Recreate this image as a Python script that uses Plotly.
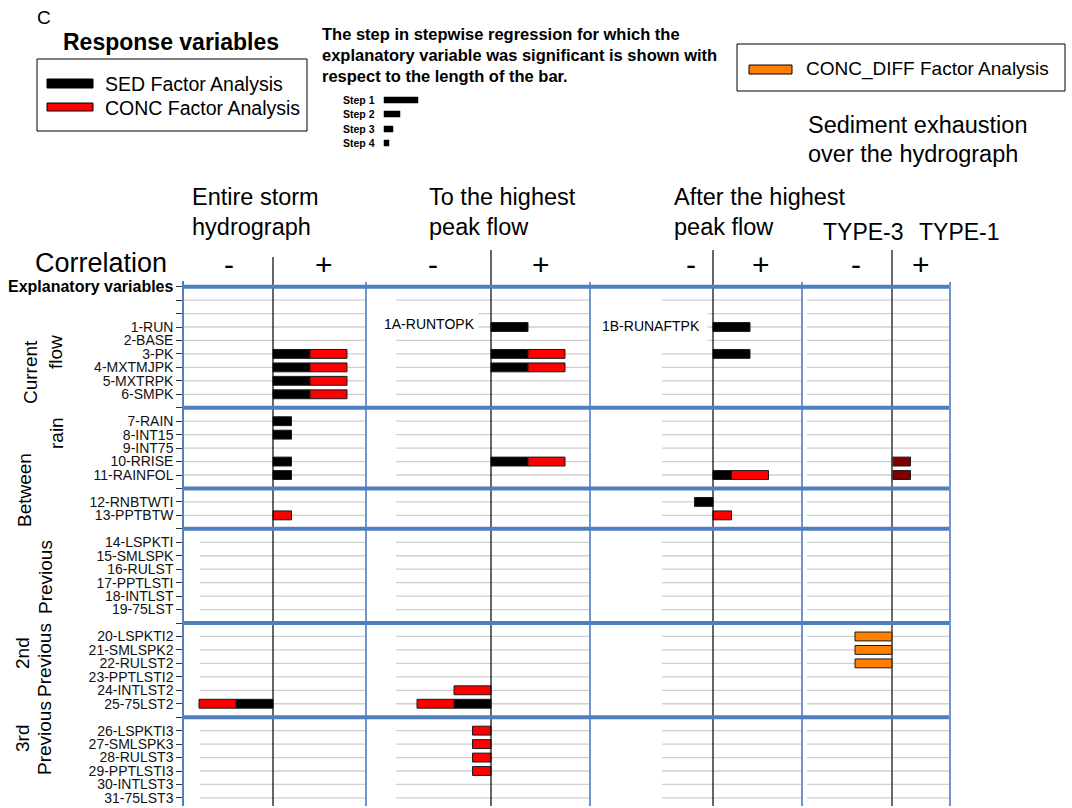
import plotly.graph_objects as go

# ---------------- data ----------------
blocks = [
    ["1-RUN", "2-BASE", "3-PK", "4-MXTMJPK", "5-MXTRPK", "6-SMPK"],
    ["7-RAIN", "8-INT15", "9-INT75", "10-RRISE", "11-RAINFOL"],
    ["12-RNBTWTI", "13-PPTBTW"],
    ["14-LSPKTI", "15-SMLSPK", "16-RULST", "17-PPTLSTI", "18-INTLST", "19-75LST"],
    ["20-LSPKTI2", "21-SMLSPK2", "22-RULST2", "23-PPTLSTI2", "24-INTLST2", "25-75LST2"],
    ["26-LSPKTI3", "27-SMLSPK3", "28-RULST3", "29-PPTLSTI3", "30-INTLST3", "31-75LST3"],
]
header_label = "Explanatory variables"

# bar length ~ step (longer = earlier step); sign = correlation
sed_entire = {"3-PK": 2, "4-MXTMJPK": 2, "5-MXTRPK": 2, "6-SMPK": 2, "7-RAIN": 1,
              "8-INT15": 1, "10-RRISE": 1, "11-RAINFOL": 1, "25-75LST2": -2}
conc_entire = {"3-PK": 2, "4-MXTMJPK": 2, "5-MXTRPK": 2, "6-SMPK": 2,
               "13-PPTBTW": 1, "25-75LST2": -2}
sed_topk = {"1-RUN": 2, "3-PK": 2, "4-MXTMJPK": 2, "10-RRISE": 2, "25-75LST2": -2}
conc_topk = {"3-PK": 2, "4-MXTMJPK": 2, "10-RRISE": 2, "24-INTLST2": -2, "25-75LST2": -2,
             "26-LSPKTI3": -1, "27-SMLSPK3": -1, "28-RULST3": -1, "29-PPTLSTI3": -1}
sed_aftpk = {"1-RUN": 2, "3-PK": 2, "11-RAINFOL": 1, "12-RNBTWTI": -1}
conc_aftpk = {"11-RAINFOL": 2, "13-PPTBTW": 1}
type1_exh = {"10-RRISE": 1, "11-RAINFOL": 1}
conc_diff = {"20-LSPKTI2": -2, "21-SMLSPK2": -2, "22-RULST2": -2}

# ---------------- rows ----------------
rows = [header_label, "", ""]
sep_rows = [0]
for i, b in enumerate(blocks):
    if i > 0:
        sep_rows.append(len(rows))
        rows.append("")
    rows.extend(b)
row_of = {lab: i for i, lab in enumerate(rows) if lab}

# ---------------- geometry ----------------
W, H = 1072, 808
L, R, T, B = 184, 122, 281, 2
PW, PH = W - L - R, H - T - B
def px(x): return (x - L) / PW
def py(y): return (H - B - y) / PH

PPU = 18.5
panel_px = [182, 224, 212, 148]
zero_px = [89, 125, 123, 90]
grid_inset = [0, 30, 72, 5]
FONT = "Liberation Sans, Arial, sans-serif"

BLUE = "#4f7fbf"
fig = go.Figure()

def add_bars(d, color, ax, name):
    labs = list(d.keys())
    fig.add_trace(go.Bar(
        x=[d[k] for k in labs], y=[row_of[k] for k in labs], orientation="h",
        xaxis=ax, yaxis="y", name=name, width=0.66,
        marker=dict(color=color, line=dict(color="#1a1a1a", width=1)),
        showlegend=False))

add_bars(sed_entire, "#000000", "x", "SED")
add_bars(conc_entire, "#ff0000", "x", "CONC")
add_bars(sed_topk, "#000000", "x2", "SED")
add_bars(conc_topk, "#ff0000", "x2", "CONC")
add_bars(sed_aftpk, "#000000", "x3", "SED")
add_bars(conc_aftpk, "#ff0000", "x3", "CONC")
add_bars(type1_exh, "#7f0000", "x4", "TYPE")
add_bars(conc_diff, "#ff8000", "x4", "CONC_DIFF")

layout = dict(
    width=W, height=H, margin=dict(l=L, r=R, t=T, b=B, pad=0),
    paper_bgcolor="white", plot_bgcolor="white", barmode="relative",
    font=dict(family=FONT, color="#000"),
    yaxis=dict(range=[38.6, -0.42], tickvals=list(range(len(rows))),
               ticktext=["" if i == 0 else r for i, r in enumerate(rows)],
               ticks="outside", ticklen=6, tickcolor="#333", showline=True,
               linecolor=BLUE, linewidth=1.5, showgrid=False,
               zeroline=False, tickfont=dict(size=14, color="#111"),
               anchor="x"),
)
start = 0
shapes = []
for i, (w, z) in enumerate(zip(panel_px, zero_px)):
    key = "xaxis" if i == 0 else f"xaxis{i+1}"
    d0 = start / PW
    d1 = (start + w) / PW
    layout[key] = dict(domain=[d0, d1], range=[-z / PPU, (w - z) / PPU],
                       visible=False, anchor="y")
    # light gray row lines inside this panel
    for r in range(len(rows)):
        if r in sep_rows:
            continue
        inset = grid_inset[i]
        if i == 0 and r >= 18:
            inset = 16
        shapes.append(dict(type="line", xref="paper", yref="y", layer="below",
                           x0=(start + inset) / PW, x1=d1, y0=r, y1=r,
                           line=dict(color="#cfcfcf", width=1.3)))
    start += w
    # panel border (blue vertical)
    shapes.append(dict(type="line", xref="paper", yref="paper", x0=d1, x1=d1,
                       y0=0, y1=py(282), line=dict(color="#6f96cc", width=2)))
    # zero line extending into header
    top = 257 if i == 0 else 250
    shapes.append(dict(type="line", xref=("x" if i == 0 else f"x{i+1}"), yref="paper",
                       x0=0, x1=0, y0=0, y1=py(top),
                       line=dict(color="#000" if i < 3 else "#444", width=1.2 if i < 3 else 1.6)))

for r in sep_rows:
    shapes.append(dict(type="line", xref="paper", yref="y", x0=0, x1=px(949), y0=r, y1=r,
                       line=dict(color=BLUE, width=4)))

# legend boxes
shapes += [
    dict(type="rect", xref="paper", yref="paper", x0=px(37), x1=px(307), y0=py(131), y1=py(59),
         line=dict(color="#000", width=1), fillcolor="rgba(0,0,0,0)"),
    dict(type="rect", xref="paper", yref="paper", x0=px(47), x1=px(93), y0=py(88), y1=py(79),
         line=dict(color="#000", width=1), fillcolor="#000"),
    dict(type="rect", xref="paper", yref="paper", x0=px(47), x1=px(93), y0=py(111), y1=py(103),
         line=dict(color="#000", width=1), fillcolor="#ff0000"),
    dict(type="rect", xref="paper", yref="paper", x0=px(737), x1=px(1065), y0=py(91), y1=py(44),
         line=dict(color="#000", width=1), fillcolor="rgba(0,0,0,0)"),
    dict(type="rect", xref="paper", yref="paper", x0=px(749), x1=px(792), y0=py(74), y1=py(65),
         line=dict(color="#000", width=1), fillcolor="#ff8000"),
]
step_len = [34, 16, 9, 5]
step_y = [100, 114, 129, 143]
for ln, yy in zip(step_len, step_y):
    shapes.append(dict(type="rect", xref="paper", yref="paper", x0=px(384), x1=px(384 + ln),
                       y0=py(yy + 3), y1=py(yy - 3), line=dict(color="#000", width=0.5),
                       fillcolor="#000"))
layout["shapes"] = shapes

ann = []
def txt(x, y, s, size, bold=False, xa="left", angle=0, xref="paper", yref="paper", **kw):
    ann.append(dict(x=x if xref != "paper" else px(x), y=y if yref != "paper" else py(y),
                    xref=xref, yref=yref, text=("<b>%s</b>" % s) if bold else s,
                    showarrow=False, xanchor=xa, yanchor="middle", textangle=angle,
                    font=dict(size=size, family=FONT, color="#000"), **kw))

txt(35, 18, "C", 19)
txt(61, 42, "Response variables", 23, bold=True)
txt(103, 84, "SED Factor Analysis", 19.5)
txt(103, 108, "CONC Factor Analysis", 19.5)
txt(320, 34, "The step in stepwise regression for which the", 16.5, bold=True)
txt(320, 55, "explanatory variable was significant is shown with", 16.5, bold=True)
txt(320, 76, "respect to the length of the bar.", 16.5, bold=True)
for k, yy in enumerate(step_y):
    txt(341, yy, "Step %d" % (k + 1), 10.5, bold=True)
txt(804, 69, "CONC_DIFF Factor Analysis", 19)
txt(806, 125, "Sediment exhaustion", 23.5)
txt(806, 154, "over the hydrograph", 23.5)
txt(190, 197, "Entire storm", 23.5)
txt(190, 227, "hydrograph", 23.5)
txt(427, 197, "To the highest", 23.5)
txt(427, 227, "peak flow", 23.5)
txt(672, 197, "After the highest", 23.5)
txt(672, 227, "peak flow", 23.5)
txt(821, 232, "TYPE-3", 23)
txt(917, 232, "TYPE-1", 23)
txt(33, 263, "Correlation", 27)
for xx, s in [(229, "-"), (324, "+"), (433, "-"), (541, "+"), (691, "-"), (761, "+"),
              (856, "-"), (921, "+")]:
    txt(xx, 264, s, 30, xa="center")
txt(176, 0, header_label, 16, bold=True, xa="right", yref="y")
txt(30, 372, "Current", 19, xa="center", angle=-90)
txt(55, 352, "flow", 19, xa="center", angle=-90)
txt(56, 433, "rain", 19, xa="center", angle=-90)
txt(24, 490, "Between", 19, xa="center", angle=-90)
txt(45, 577, "Previous", 19, xa="center", angle=-90)
txt(22, 653, "2nd", 19, xa="center", angle=-90)
txt(44, 660, "Previous", 19, xa="center", angle=-90)
txt(22, 739, "3rd", 19, xa="center", angle=-90)
txt(44, 738, "Previous", 19, xa="center", angle=-90)
# in-panel labels for the split run variable
txt(-3.35, 2.75, "1A-RUNTOPK", 14, xa="center", xref="x2", yref="y", bgcolor="white", borderpad=3)
txt(-3.35, 2.9, "1B-RUNAFTPK", 14, xa="center", xref="x3", yref="y", bgcolor="white", borderpad=7)
layout["annotations"] = ann

fig.update_layout(**layout)
fig.write_html("out.html")
